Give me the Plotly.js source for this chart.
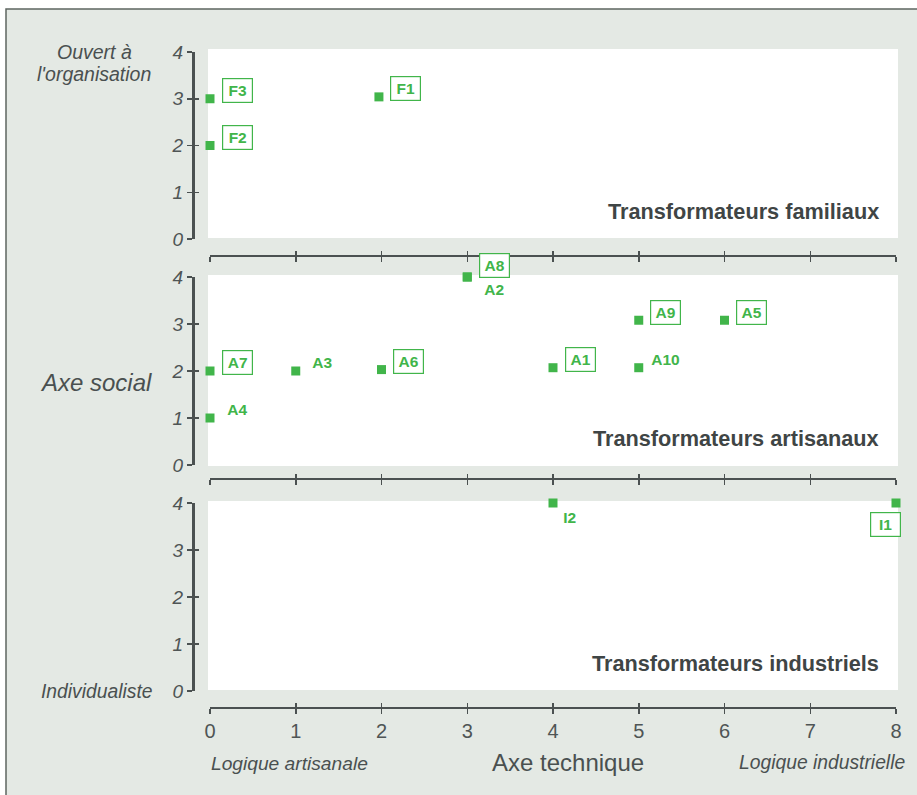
<!DOCTYPE html>
<html>
<head>
<meta charset="utf-8">
<script src="https://cdn.plot.ly/plotly-3.0.1.min.js"></script>
<style>html,body{margin:0;padding:0;background:#fff;}#chart{width:917px;height:795px;}</style>
</head>
<body>
<div id="chart"></div>
<script>
// ---- data ----
const xTickVals = [0, 1, 2, 3, 4, 5, 6, 7, 8];
const xTickText = ['0', '1', '2', '3', '4', '5', '6', '7', '8'];
const yTickVals = [0, 1, 2, 3, 4];
const yTickText = ['0', '1', '2', '3', '4'];

const panelTitles = ['Transformateurs familiaux', 'Transformateurs artisanaux', 'Transformateurs industriels'];

const famNames = ['F3', 'F2', 'F1'];
const famX = [0, 0, 1.97];
const famY = [3, 2, 3.04];
const famBoxed = [true, true, true];

const artNames = ['A7', 'A3', 'A6', 'A4', 'A8', 'A2', 'A1', 'A10', 'A9', 'A5'];
const artX = [0, 1, 2, 0, 3, 3, 4, 5, 5, 6];
const artY = [2, 2, 2.03, 1, 4, 4, 2.07, 2.07, 3.08, 3.08];
const artBoxed = [true, false, true, false, true, false, true, false, true, true];

const indNames = ['I2', 'I1'];
const indX = [4, 8];
const indY = [4, 4];
const indBoxed = [false, true];

// ---- styles ----
const GREEN = '#41b54a';
const AX = '#4b5151';
const TXT = '#3f4545';
const BG = '#e4e9e4';
const FONT = 'Liberation Sans, Arial, sans-serif';

// label placement (style, not data)
const labelShift = {
  A8: [27, 11], A2: [27, -13], I2: [16, -14], I1: [-11, -21]
};
const defaultShift = [27, 8];

const W = 917, H = 795;
const px = v => v / W;
const py = v => 1 - v / H;

const xDomain = [px(210), px(896)];
const yDomains = [[py(239), py(52)], [py(465), py(277)], [py(691), py(503)]];
const xPos = [py(256), py(479), py(708)];
const yPos = px(193);
const whiteBoxes = [[49, 238], [275, 466], [501, 690]];

const panels = [
  {names: famNames, x: famX, y: famY, boxed: famBoxed},
  {names: artNames, x: artX, y: artY, boxed: artBoxed},
  {names: indNames, x: indX, y: indY, boxed: indBoxed}
];

const traces = [];
const layout = {
  width: W, height: H,
  margin: {l: 0, r: 0, t: 0, b: 0},
  paper_bgcolor: '#ffffff',
  plot_bgcolor: 'rgba(0,0,0,0)',
  showlegend: false,
  font: {family: FONT, color: TXT},
  shapes: [],
  annotations: []
};

// outer frame
layout.shapes.push({type: 'rect', xref: 'paper', yref: 'paper', x0: px(6), x1: 1.05, y0: -0.05, y1: py(9),
  fillcolor: BG, line: {color: '#5e6560', width: 1.5}, layer: 'below'});

panels.forEach((p, i) => {
  const n = i + 1;
  const xs = n === 1 ? '' : String(n);
  const xo = String(n + 3);
  const last = i === 2;
  // white panel background
  layout.shapes.push({type: 'rect', xref: 'paper', yref: 'paper', x0: px(208), x1: px(898),
    y0: py(whiteBoxes[i][1]), y1: py(whiteBoxes[i][0]), fillcolor: '#ffffff', line: {width: 0}, layer: 'below'});

  layout['xaxis' + xs] = {
    domain: xDomain, range: [0, 8], anchor: 'free', position: xPos[i],
    showgrid: false, zeroline: false, showline: true, linecolor: AX, linewidth: 2,
    ticks: 'outside', ticklen: 5, tickwidth: 1.5, tickcolor: AX,
    tickmode: 'array', tickvals: xTickVals, ticktext: xTickText,
    showticklabels: last, tickfont: {family: FONT, size: 20, color: '#4f5555'},
    fixedrange: true
  };
  layout['yaxis' + xs] = {
    domain: yDomains[i], range: [0, 4], anchor: 'free', position: yPos,
    showgrid: false, zeroline: false, showline: true, linecolor: AX, linewidth: 2.5,
    ticks: 'outside', ticklen: 5, tickwidth: 1.5, tickcolor: AX,
    tickmode: 'array', tickvals: yTickVals, ticktext: yTickText,
    tickfont: {family: FONT, size: 19, color: '#4f5555', style: 'italic'},
    fixedrange: true
  };
  // overlay axes giving the inner half of crossing ticks
  layout['xaxis' + xo] = {
    overlaying: 'x' + xs, range: [0, 8], anchor: 'free', position: xPos[i],
    showgrid: false, zeroline: false, showline: false,
    ticks: 'inside', ticklen: 5, tickwidth: 1.5, tickcolor: AX,
    tickmode: 'array', tickvals: xTickVals, showticklabels: false, fixedrange: true
  };
  layout['yaxis' + xo] = {
    overlaying: 'y' + xs, range: [0, 4], anchor: 'free', position: yPos,
    showgrid: false, zeroline: false, showline: false,
    ticks: 'inside', ticklen: 5, tickwidth: 1.5, tickcolor: AX,
    tickmode: 'array', tickvals: yTickVals, showticklabels: false, fixedrange: true
  };
  traces.push({type: 'scatter', x: [], y: [], xaxis: 'x' + xo, yaxis: 'y' + xo,
    mode: 'markers', hoverinfo: 'skip', showlegend: false});

  traces.push({
    type: 'scatter', mode: 'markers', x: p.x, y: p.y,
    xaxis: 'x' + xs, yaxis: 'y' + xs, cliponaxis: false,
    marker: {symbol: 'square', size: 9, color: GREEN, line: {width: 0}},
    hoverinfo: 'text', text: p.names
  });

  p.names.forEach((nm, k) => {
    const sh = labelShift[nm] || defaultShift;
    const ann = {
      xref: 'x' + xs, yref: 'y' + xs, x: p.x[k], y: p.y[k],
      xshift: sh[0], yshift: sh[1], showarrow: false,
      text: nm, xanchor: 'center', yanchor: 'middle', align: 'center',
      font: {family: FONT, size: 15.5, color: GREEN, weight: 'bold'},
      bgcolor: p.boxed[k] ? '#ffffff' : 'rgba(0,0,0,0)',
      bordercolor: p.boxed[k] ? GREEN : 'rgba(0,0,0,0)',
      borderwidth: 1.2, borderpad: 3
    };
    if (p.boxed[k]) ann.width = 23;
    layout.annotations.push(ann);
  });

  // panel title
  const titleY = [212, 438, 663][i];
  layout.annotations.push({
    xref: 'paper', yref: 'paper', x: px(881), y: py(titleY),
    xanchor: 'right', yanchor: 'middle', showarrow: false,
    text: panelTitles[i],
    font: {family: FONT, size: 21.7, color: TXT, weight: 'bold'}
  });
});

// axis texts
const addText = (text, x, y, xanchor, size, italic) => layout.annotations.push({
  xref: 'paper', yref: 'paper', x: px(x), y: py(y), xanchor: xanchor, yanchor: 'middle',
  showarrow: false, text: text, align: 'center',
  font: {family: FONT, size: size, color: '#4a5050', style: italic ? 'italic' : 'normal'}
});
addText('Ouvert à', 94, 52, 'center', 19.5, true);
addText('l\'organisation', 94, 74, 'center', 19.5, true);
addText('Axe social', 96, 382, 'center', 24, true);
addText('Individualiste', 154, 691, 'right', 19.3, true);
addText('Logique artisanale', 209, 763, 'left', 19.2, true);
addText('Axe technique', 568, 762, 'center', 24, false);
addText('Logique industrielle', 907, 762, 'right', 19.3, true);

Plotly.newPlot('chart', traces, layout, {displayModeBar: false, staticPlot: true});
</script>
</body>
</html>
